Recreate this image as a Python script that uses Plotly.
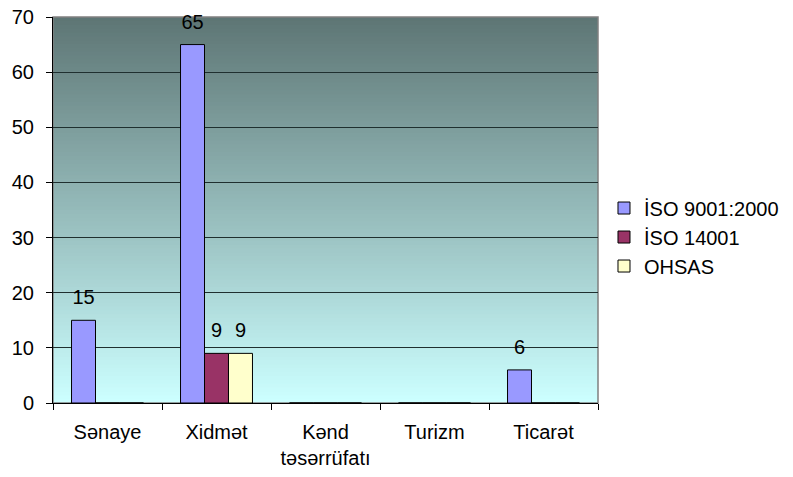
import plotly.graph_objects as go

categories = ["Sənaye", "Xidmət", "Kənd<br>təsərrüfatı", "Turizm", "Ticarət"]
series_names = ["İSO 9001:2000", "İSO 14001", "OHSAS"]
iso9001 = [15, 65, 0, 0, 6]
iso14001 = [0, 9, 0, 0, 0]
ohsas = [0, 9, 0, 0, 0]
colors = ["#9999FF", "#993366", "#FFFFCC"]
y_ticks = [0, 10, 20, 30, 40, 50, 60, 70]

FONT = "Liberation Sans, Arial"
FS = 20

fig = go.Figure()
for i, (name, vals, col) in enumerate(zip(series_names, [iso9001, iso14001, ohsas], colors)):
    fig.add_trace(go.Bar(
        x=categories, y=vals, name=name, offsetgroup=str(i),
        marker=dict(color=col, line=dict(color="black", width=1)),
    ))
for i, vals in enumerate([iso9001, iso14001, ohsas]):
    fig.add_trace(go.Scatter(
        x=categories, y=vals, offsetgroup=str(i), mode="markers+text",
        marker=dict(size=16, opacity=0), showlegend=False, hoverinfo="skip",
        text=[str(v) if v else "" for v in vals], textposition="top center",
        textfont=dict(family=FONT, size=FS, color="black"), cliponaxis=False,
    ))

# gradient background strips
top = (0x5E, 0x76, 0x75)
bot = (0xCC, 0xFF, 0xFF)
n = 100
shapes = []
for i in range(n):
    t = i / (n - 1)
    c = tuple(int(round(top[k] + (bot[k] - top[k]) * t)) for k in range(3))
    y1 = 1 - i / n
    y0 = max(0, 1 - (i + 1) / n - 0.008)
    shapes.append(dict(type="rect", xref="paper", yref="paper", x0=0, x1=1,
                       y0=y0, y1=y1, fillcolor="rgb(%d,%d,%d)" % c,
                       line=dict(width=0), layer="below"))
shapes.append(dict(type="rect", xref="paper", yref="paper", x0=0, x1=1, y0=0, y1=1,
                   line=dict(color="#808080", width=1.5), layer="below"))

fig.update_layout(
    width=785, height=469,
    margin=dict(l=45, r=193, t=9, b=74),
    paper_bgcolor="white", plot_bgcolor="rgba(0,0,0,0)",
    barmode="group", bargap=0.34, bargroupgap=0,
    scattermode="group", scattergap=0.34,
    font=dict(family=FONT, size=FS, color="black"),
    shapes=shapes,
    showlegend=True,
    legend=dict(x=1.011, y=0.43, xanchor="left", yanchor="middle",
                font=dict(size=FS), bgcolor="rgba(0,0,0,0)",
                itemwidth=30, tracegroupgap=0),
    xaxis=dict(showgrid=False, showline=True, linecolor="black", linewidth=1,
               ticks="outside", tickson="boundaries", ticklen=6, tickcolor="black",
               tickfont=dict(size=FS), zeroline=False, automargin=False,
               ticklabelstandoff=11),
    yaxis=dict(range=[0, 70], tickvals=y_ticks, showgrid=True, gridcolor="#1f2f2f",
               gridwidth=1, showline=True, linecolor="black", linewidth=1,
               ticks="outside", ticklen=6, tickcolor="black",
               tickfont=dict(size=FS), zeroline=False, layer="below traces",
               automargin=False, ticklabelstandoff=8, ticklabeloverflow="allow"),
)

fig.write_html(
    "out.html",
    config={"displayModeBar": False},
)
